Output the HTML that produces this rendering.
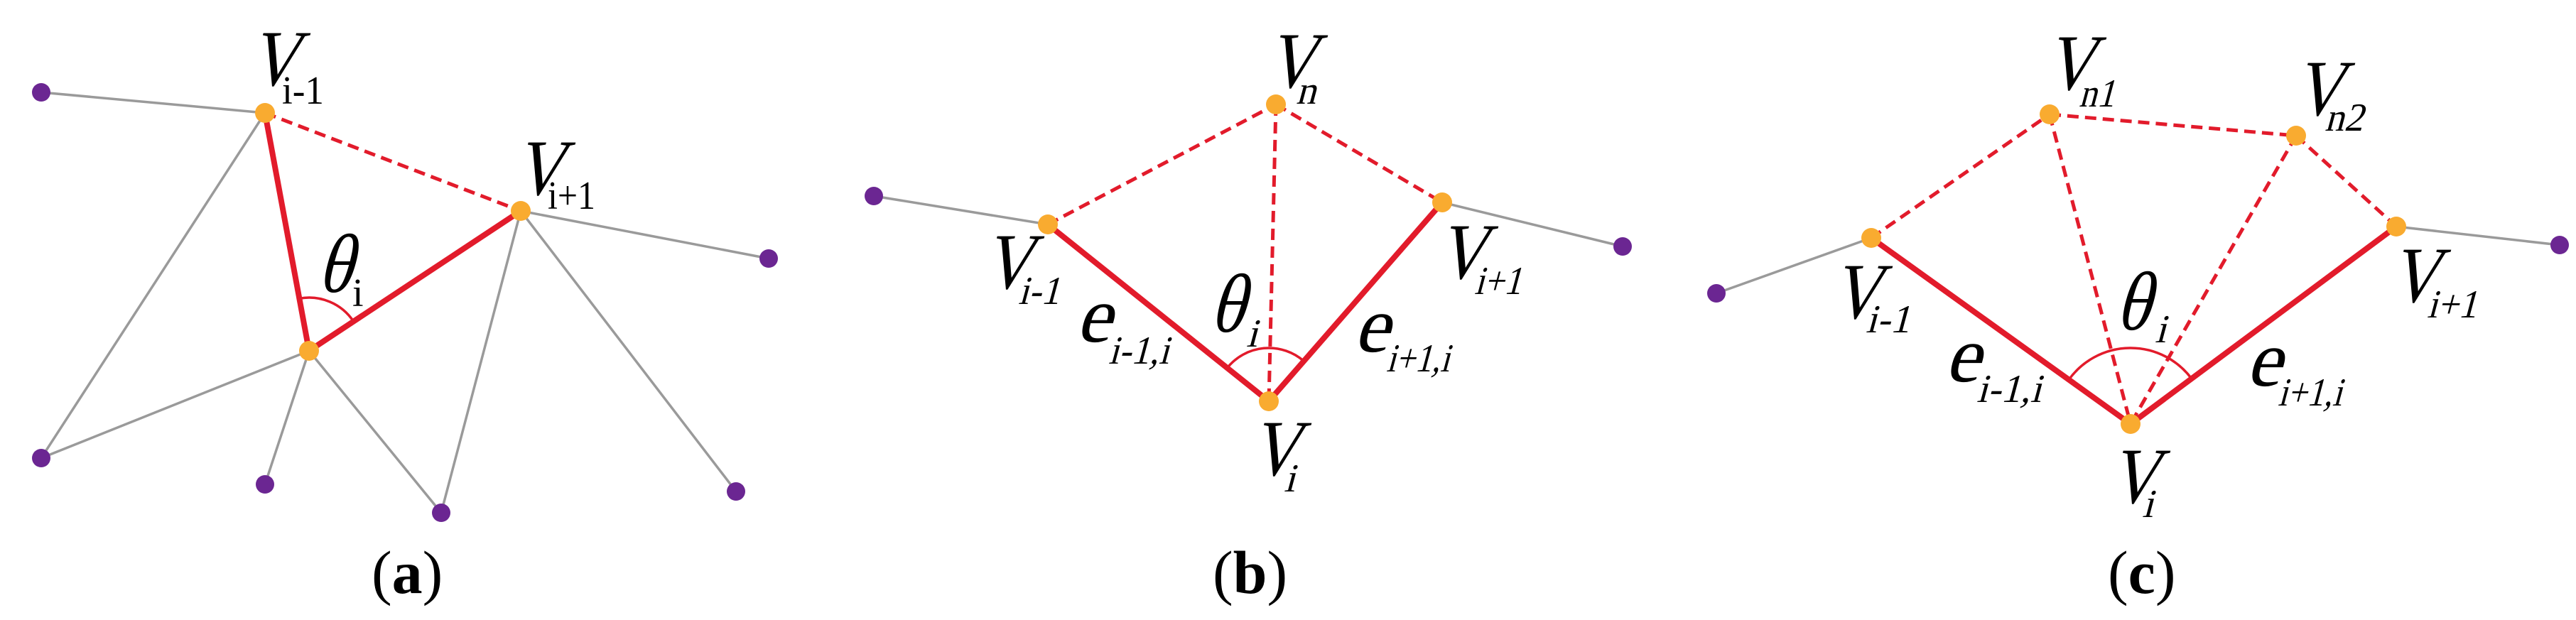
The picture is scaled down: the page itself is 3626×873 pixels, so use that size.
<!DOCTYPE html>
<html><head><meta charset="utf-8"><style>
html,body{margin:0;padding:0;background:#fff;}
svg{display:block;}
svg text{font-family:'Liberation Serif',serif;fill:#000;font-style:normal;}
.V{font-size:112px;}
.s{font-size:56px;}
.si{font-size:56px;}
.g{stroke:#9a9a9a;stroke-width:3.5;fill:none;}
.r{stroke:#e21b2b;stroke-width:8;fill:none;}
.d{stroke:#e21b2b;stroke-width:5;fill:none;stroke-dasharray:16 9;}
.a{stroke:#e21b2b;stroke-width:3.5;fill:none;}
.o{fill:#f9ab30;}
.p{fill:#6b2692;}
.lab{font-size:86px;}
</style></head><body>
<svg width="3626" height="873" viewBox="0 0 3626 873" xmlns="http://www.w3.org/2000/svg">
<!-- (a) -->
<line class="g" x1="373" y1="159" x2="58" y2="130"/>
<line class="g" x1="373" y1="159" x2="58" y2="645"/>
<line class="g" x1="435" y1="494" x2="58" y2="645"/>
<line class="g" x1="435" y1="494" x2="373" y2="682"/>
<line class="g" x1="435" y1="494" x2="621" y2="722"/>
<line class="g" x1="733" y1="297" x2="621" y2="722"/>
<line class="g" x1="733" y1="297" x2="1036" y2="692"/>
<line class="g" x1="733" y1="297" x2="1082" y2="364"/>
<line class="d" x1="373" y1="159" x2="733" y2="297"/>
<line class="r" x1="373" y1="159" x2="435" y2="494"/>
<line class="r" x1="435" y1="494" x2="733" y2="297"/>
<path class="a" d="M421.4 420.3 A75 75 0 0 1 497.6 452.6"/>
<circle class="p" cx="58" cy="130" r="13"/><circle class="p" cx="1082" cy="364" r="13"/>
<circle class="p" cx="58" cy="645" r="13"/><circle class="p" cx="373" cy="682" r="13"/>
<circle class="p" cx="621" cy="722" r="13"/><circle class="p" cx="1036" cy="692" r="13"/>
<circle class="o" cx="373" cy="159" r="14"/><circle class="o" cx="733" cy="297" r="14"/><circle class="o" cx="435" cy="494" r="14"/>
<g transform="translate(350,120) skewX(-15) scale(0.85,1)"><text class="V">V</text></g><text class="s" x="397" y="146" textLength="59" lengthAdjust="spacingAndGlyphs">i-1</text>
<g transform="translate(723,274) skewX(-15) scale(0.85,1)"><text class="V">V</text></g><text class="s" x="771" y="294" textLength="67" lengthAdjust="spacingAndGlyphs">i+1</text>
<g transform="translate(446,411) skewX(-15) scale(0.9,1.05)"><text class="V">θ</text></g><text class="s" x="496" y="431">i</text>
<text class="lab" x="523" y="835">(<tspan font-weight="bold">a</tspan>)</text>

<!-- (b) -->
<line class="g" x1="1475" y1="316" x2="1230" y2="276"/>
<line class="g" x1="2030" y1="285" x2="2284" y2="347"/>
<line class="d" x1="1475" y1="316" x2="1796" y2="147"/>
<line class="d" x1="1796" y1="147" x2="2030" y2="285"/>
<line class="d" x1="1796" y1="147" x2="1786" y2="565"/>
<line class="r" x1="1475" y1="316" x2="1786" y2="565"/>
<line class="r" x1="1786" y1="565" x2="2030" y2="285"/>
<path class="a" d="M1727.4 518.1 A75 75 0 0 1 1835.3 508.5"/>
<circle class="p" cx="1230" cy="276" r="13"/><circle class="p" cx="2284" cy="347" r="13"/>
<circle class="o" cx="1796" cy="147" r="14"/><circle class="o" cx="1475" cy="316" r="14"/>
<circle class="o" cx="2030" cy="285" r="14"/><circle class="o" cx="1786" cy="565" r="14"/>
<g transform="translate(1782,123) skewX(-15) scale(0.85,1)"><text class="V">V</text></g>
<g transform="translate(1824,146) skewX(-15)"><text class="si">n</text></g>
<g transform="translate(1383,406) skewX(-15) scale(0.85,1)"><text class="V">V</text></g>
<g transform="translate(1433,428) skewX(-15)"><text class="si" textLength="58" lengthAdjust="spacingAndGlyphs">i-1</text></g>
<g transform="translate(2022,392) skewX(-15) scale(0.85,1)"><text class="V">V</text></g>
<g transform="translate(2075,414) skewX(-15)"><text class="si" textLength="66" lengthAdjust="spacingAndGlyphs">i+1</text></g>
<g transform="translate(1702,467) skewX(-15) scale(0.9,1.05)"><text class="V">θ</text></g>
<g transform="translate(1754,488) skewX(-15)"><text class="si">i</text></g>
<g transform="translate(1514,481) skewX(-15)"><text class="V">e</text></g>
<g transform="translate(1560,512) skewX(-15)"><text class="si" textLength="85" lengthAdjust="spacingAndGlyphs">i-1,i</text></g>
<g transform="translate(1905,495) skewX(-15)"><text class="V">e</text></g>
<g transform="translate(1951,523) skewX(-15)"><text class="si" textLength="89" lengthAdjust="spacingAndGlyphs">i+1,i</text></g>
<g transform="translate(1759,669) skewX(-15) scale(0.85,1)"><text class="V">V</text></g>
<g transform="translate(1807,692) skewX(-15)"><text class="si">i</text></g>
<text class="lab" x="1707" y="835">(<tspan font-weight="bold">b</tspan>)</text>

<!-- (c) -->
<line class="g" x1="2634" y1="335" x2="2416" y2="413"/>
<line class="g" x1="3373" y1="319" x2="3603" y2="345"/>
<line class="d" x1="2634" y1="335" x2="2885" y2="161"/>
<line class="d" x1="2885" y1="161" x2="3232" y2="191"/>
<line class="d" x1="3232" y1="191" x2="3373" y2="319"/>
<line class="d" x1="2885" y1="161" x2="2999" y2="597"/>
<line class="d" x1="3232" y1="191" x2="2999" y2="597"/>
<line class="r" x1="2634" y1="335" x2="2999" y2="597"/>
<line class="r" x1="2999" y1="597" x2="3373" y2="319"/>
<path class="a" d="M2912.1 534.6 A107 107 0 0 1 3084.9 533.2"/>
<circle class="p" cx="2416" cy="413" r="13"/><circle class="p" cx="3603" cy="345" r="13"/>
<circle class="o" cx="2885" cy="161" r="14"/><circle class="o" cx="3232" cy="191" r="14"/>
<circle class="o" cx="2634" cy="335" r="14"/><circle class="o" cx="3373" cy="319" r="14"/>
<circle class="o" cx="2999" cy="597" r="14"/>
<g transform="translate(2878,126) skewX(-15) scale(0.85,1)"><text class="V">V</text></g>
<g transform="translate(2926,150) skewX(-15)"><text class="si" textLength="50" lengthAdjust="spacingAndGlyphs">n1</text></g>
<g transform="translate(3228,162) skewX(-15) scale(0.85,1)"><text class="V">V</text></g>
<g transform="translate(3272,184) skewX(-15)"><text class="si" textLength="54" lengthAdjust="spacingAndGlyphs">n2</text></g>
<g transform="translate(2577,448) skewX(-15) scale(0.85,1)"><text class="V">V</text></g>
<g transform="translate(2626,468) skewX(-15)"><text class="si" textLength="62" lengthAdjust="spacingAndGlyphs">i-1</text></g>
<g transform="translate(3363,425) skewX(-15) scale(0.85,1)"><text class="V">V</text></g>
<g transform="translate(3416,447) skewX(-15)"><text class="si" textLength="70" lengthAdjust="spacingAndGlyphs">i+1</text></g>
<g transform="translate(2977,464) skewX(-15) scale(0.9,1.05)"><text class="V">θ</text></g>
<g transform="translate(3033,482) skewX(-15)"><text class="si">i</text></g>
<g transform="translate(2737,537) skewX(-15)"><text class="V">e</text></g>
<g transform="translate(2782,566) skewX(-15)"><text class="si" textLength="91" lengthAdjust="spacingAndGlyphs">i-1,i</text></g>
<g transform="translate(3161,543) skewX(-15)"><text class="V">e</text></g>
<g transform="translate(3206,571) skewX(-15)"><text class="si" textLength="90" lengthAdjust="spacingAndGlyphs">i+1,i</text></g>
<g transform="translate(2968,708) skewX(-15) scale(0.85,1)"><text class="V">V</text></g>
<g transform="translate(3015,728) skewX(-15)"><text class="si">i</text></g>
<text class="lab" x="2967" y="835">(<tspan font-weight="bold">c</tspan>)</text>
</svg>
</body></html>
